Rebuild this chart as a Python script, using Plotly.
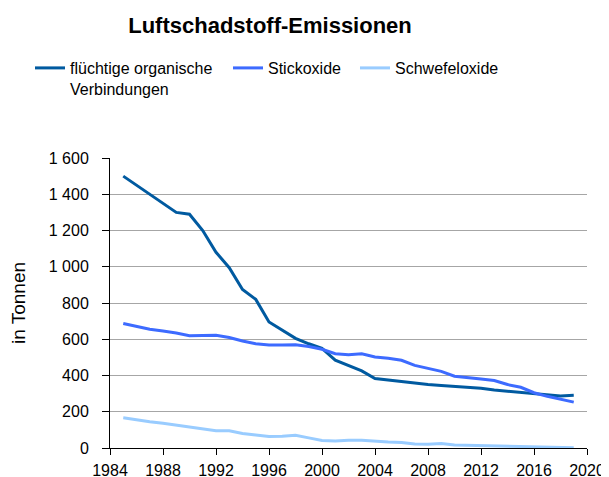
import plotly.graph_objects as go

years = list(range(1985, 2020))

voc = [1500, 1450, 1400, 1350, 1300, 1290, 1200, 1080, 995, 875,
       820, 695, 650, 605, 575, 550, 485, 455, 425, 383,
       375, 365, 355, 350, 345, 340, 335, 330, 320, 313,
       305, 298, 292, 287, 291]

nox = [687, 670, 655, 645, 635, 620, 620, 622, 610, 590,
       575, 568, 568, 570, 560, 545, 520, 515, 520, 502,
       495, 484, 456, 440, 423, 396, 390, 381, 372, 350,
       335, 305, 285, 270, 253]

sox = [167, 155, 145, 136, 126, 115, 103, 95, 95, 80,
       72, 64, 65, 70, 56, 42, 38, 43, 43, 36,
       33, 30, 22, 21, 25, 17, 15, 13, 11, 9,
       8, 7, 5, 3, 2]

names = ["flüchtige organische<br>Verbindungen", "Stickoxide", "Schwefeloxide"]
colors = ["#005AA0", "#3D6BFF", "#99CCFF"]

W, H = 609, 477
OFF = 8  # the page body margin shifts the figure 8px right and down
legend_x = [30 - OFF, 228 - OFF, 355 - OFF]  # left edge of each legend entry, px

fig = go.Figure()
for i, (vals, name, col) in enumerate(zip([voc, nox, sox], names, colors)):
    fig.add_trace(go.Scatter(
        x=years, y=vals, name=name, mode="lines",
        line=dict(color=col, width=3),
        legend="legend" if i == 0 else f"legend{i + 1}",
    ))

font = dict(family="Liberation Sans, Arial, sans-serif", size=16, color="#000000")

# one legend per entry so each can sit where the original puts it
for i, lx in enumerate(legend_x):
    key = "legend" if i == 0 else f"legend{i + 1}"
    fig.update_layout({key: dict(
        orientation="h", xref="container", yref="container",
        x=lx / W, xanchor="left", y=1 - 43 / H, yanchor="top",
        bgcolor="rgba(0,0,0,0)", font=font, itemwidth=30,
        borderwidth=0, valign="top",
    )})

fig.update_layout(
    template="none",
    showlegend=True,
    width=W, height=H,
    margin=dict(l=110 - OFF, r=22 + OFF, t=158 - OFF, b=29 + OFF, autoexpand=False),
    paper_bgcolor="white", plot_bgcolor="white",
    font=font,
    separators=", ",
    title=dict(text="<b>Luftschadstoff-Emissionen</b>", xref="container", x=(270 - OFF) / W,
               xanchor="center", yref="container", y=1 - (25 - OFF) / H, yanchor="middle",
               font=dict(size=22, family=font["family"])),
)

fig.update_xaxes(
    range=[1984, 2020], dtick=4, tick0=1984, automargin=False,
    showline=True, linecolor="#000000", linewidth=1,
    ticks="outside", ticklen=6, tickcolor="#000000", ticklabelstandoff=2,
    showgrid=False, zeroline=False,
)
fig.update_yaxes(
    range=[0, 1600], dtick=200, separatethousands=True, automargin=False,
    showline=True, linecolor="#000000", linewidth=1,
    ticks="outside", ticklen=7, tickcolor="#000000", ticklabelstandoff=10,
    showgrid=True, gridcolor="#A6A6A6", gridwidth=1, zeroline=False,
    title=dict(text="in Tonnen", standoff=24),
)

fig.write_html("out.html")
